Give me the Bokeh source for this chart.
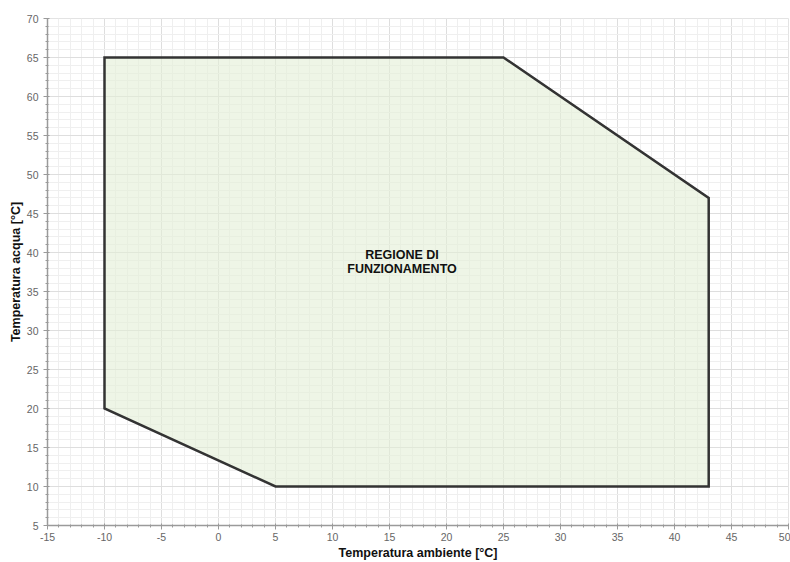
from bokeh.plotting import figure
from bokeh.models import ColumnDataSource, SingleIntervalTicker, Range1d, PrintfTickFormatter
from bokeh.core.properties import value
from bokeh.embed import file_html
from bokeh.resources import INLINE

# Operating envelope (Temperatura ambiente, Temperatura acqua)
t_ambiente = [-10, -10, 25, 43, 43, 5]
t_acqua = [20, 65, 65, 47, 10, 10]

label_text = ["REGIONE DI\nFUNZIONAMENTO"]
label_x = [16.1]
label_y = [38.8]

x_start, x_end = -15, 50
y_start, y_end = 5, 70

p = figure(width=790, height=562, output_backend="svg", toolbar_location=None,
           x_range=Range1d(x_start, x_end), y_range=Range1d(y_start, y_end),
           min_border_left=47, min_border_right=2, min_border_top=18, min_border_bottom=34)

p.background_fill_color = "white"
p.border_fill_color = "white"
p.outline_line_color = "#e3e3e3"
p.outline_line_width = 1

for ax in (p.xaxis[0], p.yaxis[0]):
    ax.ticker = SingleIntervalTicker(interval=5, num_minor_ticks=5)
    ax.formatter = PrintfTickFormatter(format="%d")
    ax.axis_line_color = "#9a9a9a"
    ax.axis_line_width = 1.5
    ax.major_tick_line_color = "#9a9a9a"
    ax.minor_tick_line_color = "#9a9a9a"
    ax.major_tick_out = 4
    ax.major_tick_in = 2
    ax.minor_tick_out = 2
    ax.minor_tick_in = 1
    ax.major_label_text_font = "Liberation Sans"
    ax.major_label_text_font_size = "10.5px"
    ax.major_label_text_color = "#666666"
    ax.axis_label_text_font = "Liberation Sans"
    ax.axis_label_text_font_size = "12.5px"
    ax.axis_label_text_font_style = "bold"
    ax.axis_label_text_color = "#111111"

p.xaxis.axis_label = "Temperatura ambiente [°C]"
p.yaxis.axis_label = "Temperatura acqua [°C]"
p.xaxis.major_label_standoff = 3
p.yaxis.major_label_standoff = 5
p.xaxis.axis_label_standoff = 2
p.yaxis.axis_label_standoff = 1

for g in (p.xgrid[0], p.ygrid[0]):
    g.ticker = SingleIntervalTicker(interval=5, num_minor_ticks=5)
    g.grid_line_color = "#dedede"
    g.grid_line_width = 1
    g.minor_grid_line_color = "#efefef"
    g.minor_grid_line_width = 1

src = ColumnDataSource(dict(x=[t_ambiente], y=[t_acqua]))
p.patches("x", "y", source=src, fill_color="#e2efd6", fill_alpha=0.6,
          line_color="#333333", line_width=2.5, line_join="miter")

lbl = ColumnDataSource(dict(x=label_x, y=label_y, t=label_text))
p.text("x", "y", text="t", source=lbl, text_align="center", text_baseline="middle",
       text_font=value("Liberation Sans"), text_font_size="12.5px",
       text_font_style="bold", text_color="#111111", text_line_height=1.0)

open("out.html", "w").write(file_html(p, INLINE))
